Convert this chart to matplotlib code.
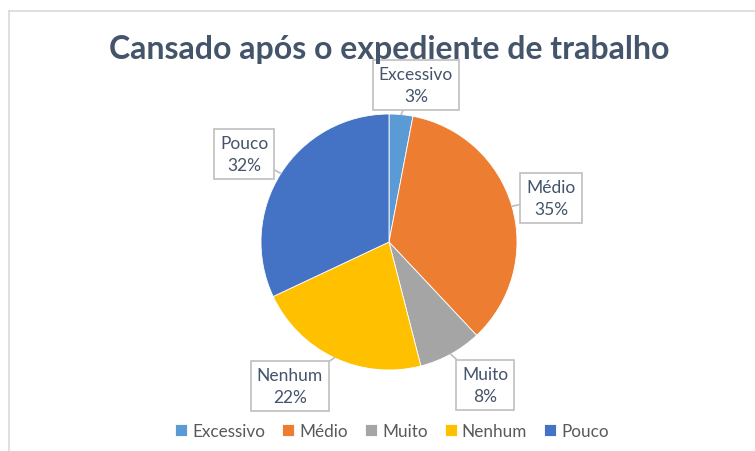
import matplotlib
matplotlib.use("Agg")
import matplotlib.pyplot as plt
import numpy as np

categories = ["Excessivo", "Médio", "Muito", "Nenhum", "Pouco"]
values = [3, 35, 8, 22, 32]
colors = ["#5B9BD5", "#ED7D31", "#A5A5A5", "#FFC000", "#4472C4"]
title = "Cansado após o expediente de trabalho"

# label box centres in pixel coords (x, y from top)
label_pos = [(416, 86), (551, 199), (485, 386), (290, 387), (244, 155)]

W, H = 755, 452
plt.rcParams["font.family"] = ["Lato", "DejaVu Sans"]

fig = plt.figure(figsize=(W / 100, H / 100), dpi=100)
ax = fig.add_axes([0, 0, 1, 1])

cx, cy, r = 389, H - 243, 128
wedges, _ = ax.pie(values, colors=colors, startangle=90, counterclock=False,
                   center=(cx, cy), radius=r, frame=True,
                   wedgeprops=dict(edgecolor="white", linewidth=0.6))
ax.set_xlim(0, W)
ax.set_ylim(0, H)
ax.set_aspect("equal")
ax.axis("off")

text_col = "#44546A"
for w, cat, v, (lx, ly) in zip(wedges, categories, values, label_pos):
    ang = np.deg2rad((w.theta1 + w.theta2) / 2)
    px, py = cx + r * np.cos(ang), cy + r * np.sin(ang)
    ax.annotate(f"{cat}\n{v}%", xy=(px, py), xytext=(lx, H - ly),
                ha="center", va="center", fontsize=12.5, color=text_col,
                linespacing=1.5,
                bbox=dict(boxstyle="square,pad=0.35", fc="white", ec="#BFBFBF", lw=1.2),
                arrowprops=dict(arrowstyle="-", color="#BFBFBF", lw=1.2,
                                shrinkA=0, shrinkB=0))

ax.text(389, H - 49, title, ha="center", va="center", fontsize=23,
        fontweight="bold", color="#44546A")

# chart border (top and left visible)
ax.plot([9, W], [H - 12, H - 12], color="#D9D9D9", lw=1.2, clip_on=False)
ax.plot([9, 9], [H - 12, 0], color="#D9D9D9", lw=1.2, clip_on=False)

fig.legend(wedges, categories, loc="center", bbox_to_anchor=(392 / W, 1 - 432 / H),
           ncol=5, frameon=False, fontsize=12.3, handlelength=0.7, handleheight=0.7,
           handletextpad=0.3, columnspacing=1.0, labelcolor="#595959")

fig.savefig("out.png", dpi=100)
